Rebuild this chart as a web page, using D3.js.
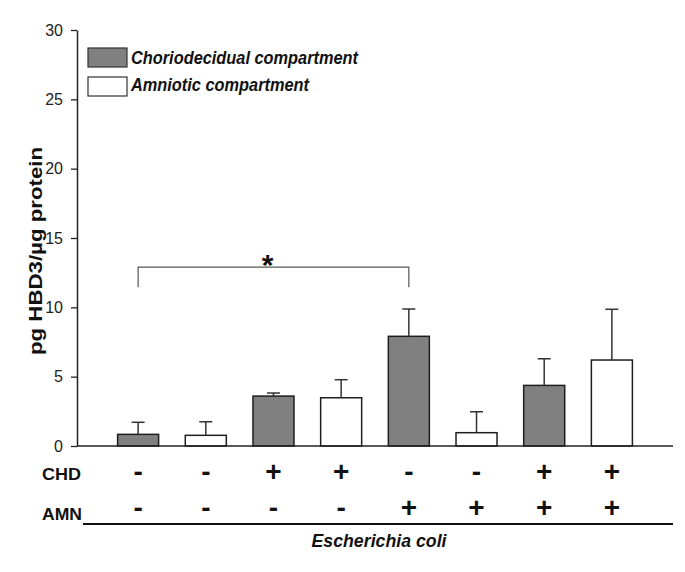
<!DOCTYPE html>
<html>
<head>
<meta charset="utf-8">
<script src="https://cdn.jsdelivr.net/npm/d3@7"></script>
<style>
  html, body { margin: 0; padding: 0; background: #fff; }
  svg { display: block; font-family: "Liberation Sans", Arial, sans-serif; }
</style>
</head>
<body>
<svg id="chart" width="685" height="572"></svg>
<script>
// ---- data ----
const groups = ["g1", "g2", "g3", "g4", "g5", "g6", "g7", "g8"];
const compartment = ["CHD", "AMN", "CHD", "AMN", "CHD", "AMN", "CHD", "AMN"];
const means = [0.84, 0.77, 3.6, 3.48, 7.91, 0.96, 4.37, 6.2];
const errors = [0.87, 0.98, 0.22, 1.3, 1.97, 1.51, 1.92, 3.66];
const chdSigns = ["-", "-", "+", "+", "-", "-", "+", "+"];
const amnSigns = ["-", "-", "-", "-", "+", "+", "+", "+"];
const yTicks = [0, 5, 10, 15, 20, 25, 30];
const legendLabels = ["Choriodecidual compartment", "Amniotic compartment"];
const sigFrom = 0, sigTo = 4, sigLevel = 12.9, sigLeg = 11.45;
const yLabel = "pg HBD3/\u00b5g protein";
const xTitle = "Escherichia coli";

const colors = { CHD: "#808080", AMN: "#ffffff" };
const svg = d3.select("#chart");

const y = d3.scaleLinear().domain([0, 30]).range([446, 30]);
const x = d3.scaleBand().domain(groups).range([77, 673]).paddingInner(0.394).paddingOuter(0.6);

// y axis
const yAxis = svg.append("g")
  .attr("transform", "translate(77,0)")
  .call(d3.axisLeft(y).tickValues(yTicks).tickSize(6).tickSizeOuter(0).tickPadding(8));
yAxis.select(".domain").attr("stroke", "#222").attr("stroke-width", 1.5);
yAxis.selectAll(".tick line").attr("stroke", "#222").attr("stroke-width", 1.3);
yAxis.selectAll(".tick text").attr("font-size", 16).attr("fill", "#222")
  .attr("font-family", "'Liberation Sans', Arial, sans-serif");

// bars
svg.append("g").selectAll("rect").data(groups).join("rect")
  .attr("x", d => x(d))
  .attr("width", x.bandwidth())
  .attr("y", (d, i) => y(means[i]))
  .attr("height", (d, i) => y(0) - y(means[i]))
  .attr("fill", (d, i) => colors[compartment[i]])
  .attr("stroke", "#1e1e1e").attr("stroke-width", 1.5);

// error bars
const eg = svg.append("g").attr("stroke", "#333").attr("stroke-width", 1.5);
groups.forEach((g, i) => {
  const cx = x(g) + x.bandwidth() / 2;
  eg.append("line").attr("x1", cx).attr("x2", cx)
    .attr("y1", y(means[i])).attr("y2", y(means[i] + errors[i]));
  eg.append("line").attr("x1", cx - 6.5).attr("x2", cx + 6.5)
    .attr("y1", y(means[i] + errors[i])).attr("y2", y(means[i] + errors[i]));
});

// x baseline
svg.append("line").attr("x1", x.range()[0]).attr("x2", x.range()[1])
  .attr("y1", y(0)).attr("y2", y(0)).attr("stroke", "#222").attr("stroke-width", 1.5);

// significance bracket
const bx1 = x(groups[sigFrom]) + x.bandwidth() / 2;
const bx2 = x(groups[sigTo]) + x.bandwidth() / 2;
svg.append("path")
  .attr("d", `M${bx1},${y(sigLeg)}V${y(sigLevel)}H${bx2}V${y(sigLeg)}`)
  .attr("fill", "none").attr("stroke", "#555").attr("stroke-width", 1.2);
svg.append("text").attr("x", (bx1 + bx2) / 2 - 6).attr("y", y(sigLevel) + 8)
  .attr("text-anchor", "middle").attr("font-size", 30).attr("font-weight", "bold")
  .attr("fill", "#111").text("*");

// legend
const lg = svg.append("g");
["CHD", "AMN"].forEach((k, i) => {
  lg.append("rect").attr("x", 88).attr("y", 48 + i * 29).attr("width", 39).attr("height", 19)
    .attr("fill", colors[k]).attr("stroke", "#333").attr("stroke-width", 1.2);
  lg.append("text").attr("x", 131).attr("y", 64 + i * 26.5)
    .attr("font-size", 17.5).attr("font-weight", "bold").attr("font-style", "italic")
    .attr("fill", "#111")
    .attr("textLength", i === 0 ? 227 : 178).attr("lengthAdjust", "spacingAndGlyphs")
    .text(legendLabels[i]);
});

// y label
svg.append("text")
  .attr("transform", "translate(42,251) rotate(-90)")
  .attr("text-anchor", "middle").attr("font-size", 18).attr("font-weight", "bold")
  .attr("fill", "#111")
  .attr("textLength", 208).attr("lengthAdjust", "spacingAndGlyphs")
  .text(yLabel);

// condition rows
const rows = [{ label: "CHD", signs: chdSigns, base: 479.5 }, { label: "AMN", signs: amnSigns, base: 520 }];
rows.forEach((r, ri) => {
  svg.append("text").attr("x", 42).attr("y", r.base)
    .attr("font-size", 17).attr("font-weight", "bold").attr("fill", "#111")
    .attr("textLength", ri === 0 ? 39 : 40).attr("lengthAdjust", "spacingAndGlyphs")
    .text(r.label);
  svg.append("g").selectAll("text").data(r.signs).join("text")
    .attr("x", (d, i) => x(groups[i]) + x.bandwidth() / 2)
    .attr("y", ri === 0 ? 481 : 517)
    .attr("text-anchor", "middle").attr("font-size", 28).attr("font-weight", "bold")
    .attr("fill", "#111")
    .text(d => d);
});

// underline + title
svg.append("line").attr("x1", 83).attr("x2", x.range()[1]).attr("y1", 524).attr("y2", 524)
  .attr("stroke", "#111").attr("stroke-width", 2);
svg.append("text").attr("x", 379).attr("y", 547)
  .attr("text-anchor", "middle").attr("font-size", 18).attr("font-weight", "bold")
  .attr("font-style", "italic").attr("fill", "#111")
  .attr("textLength", 135).attr("lengthAdjust", "spacingAndGlyphs")
  .text(xTitle);
</script>
</body>
</html>
